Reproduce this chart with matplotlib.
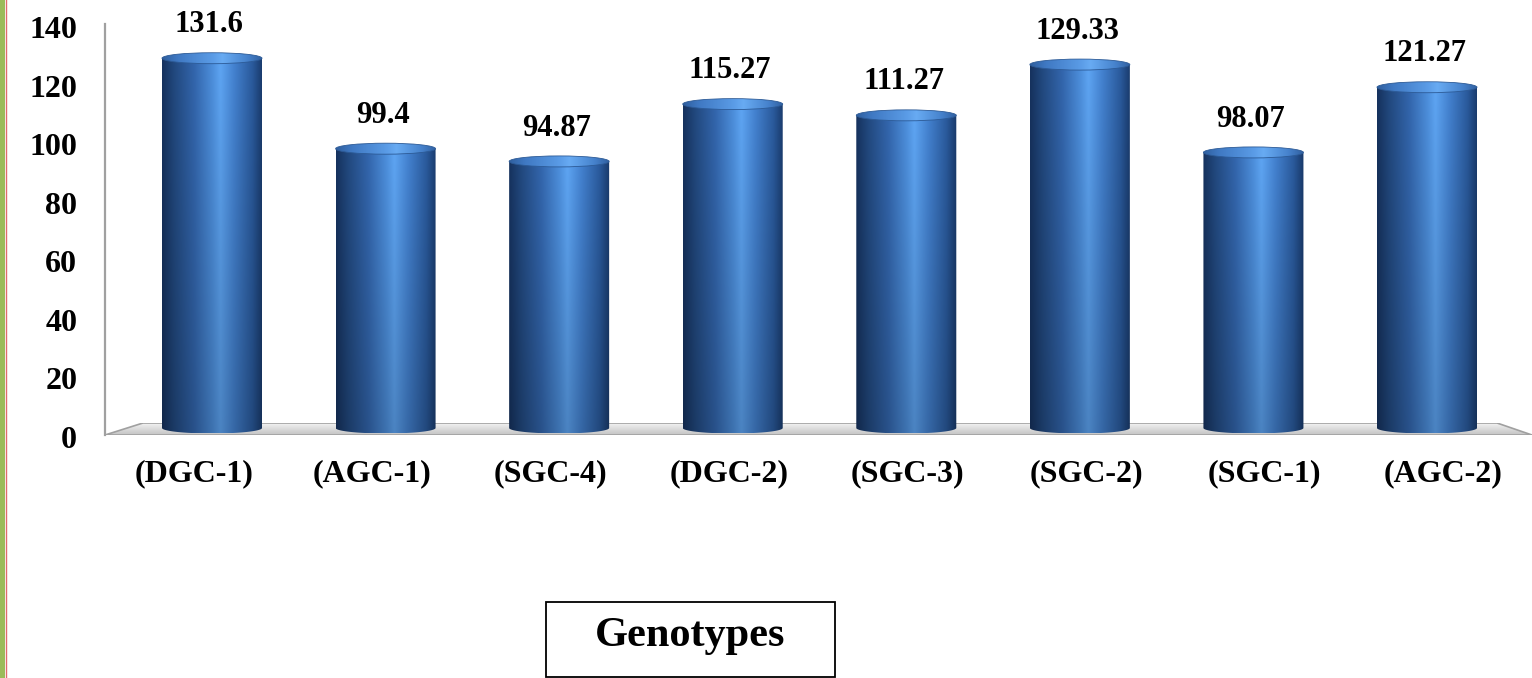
import numpy as np
import matplotlib
matplotlib.use("Agg")
import matplotlib.pyplot as plt
from matplotlib.patches import Ellipse, Rectangle, Polygon, PathPatch
from matplotlib.path import Path
from matplotlib.colors import LinearSegmentedColormap
from matplotlib.lines import Line2D
from matplotlib.transforms import blended_transform_factory

# ---- data ----
genotypes = ["(DGC-1)", "(AGC-1)", "(SGC-4)", "(DGC-2)",
             "(SGC-3)", "(SGC-2)", "(SGC-1)", "(AGC-2)"]
values = [131.6, 99.4, 94.87, 115.27, 111.27, 129.33, 98.07, 121.27]
value_labels = ["131.6", "99.4", "94.87", "115.27", "111.27", "129.33", "98.07", "121.27"]
y_ticks = [0, 20, 40, 60, 80, 100, 120, 140]
axis_title = "Genotypes"

FONT = "Liberation Serif"
W, H, DPI = 1532, 678, 100
fig = plt.figure(figsize=(W / DPI, H / DPI), dpi=DPI)
fig.patch.set_facecolor("white")


def fx(px):
    return px / W


def fy(py):
    return 1 - py / H


def axes_px(left, top, right, bottom, **kw):
    return fig.add_axes([fx(left), fy(bottom), (right - left) / W, (bottom - top) / H], **kw)


# ---- floor of the 3-D plot ----
ax_floor = axes_px(105, 423, 1532, 435)
ax_floor.set_axis_off()
ax_floor.set_xlim(0, 1)
ax_floor.set_ylim(0, 1)
floor_pts = [((143 - 105) / 1427, 1), ((1497 - 105) / 1427, 1), (1, 0), (0, 0)]
floor = Polygon(floor_pts, closed=True, facecolor="none", edgecolor="#a0a0a0", lw=1.2,
                transform=ax_floor.transAxes, zorder=3)
ax_floor.add_patch(floor)
grad = np.linspace(0, 1, 64)[:, None] * np.ones((1, 4))
floor_cmap = LinearSegmentedColormap.from_list("floor", ["#c4c4c4", "#dcdcdc", "#f7f7f7"])
fim = ax_floor.imshow(grad, extent=[0, 1, 0, 1], origin="lower", aspect="auto",
                      cmap=floor_cmap, zorder=1)
fim.set_clip_path(floor)

# wall edge (vertical axis line)
fig.add_artist(Line2D([fx(105), fx(105)], [fy(24), fy(435)], color="#a0a0a0", lw=1.6))

# ---- value scale on the back wall ----
ax_wall = axes_px(105, 27, 106, 437)
ax_wall.set_ylim(0, 140)
ax_wall.set_yticks(y_ticks)
ax_wall.set_yticklabels([str(t) for t in y_ticks], fontfamily=FONT, fontweight="bold",
                        fontsize=23)
ax_wall.set_xticks([])
ax_wall.tick_params(axis="y", length=0, pad=20)
for s in ax_wall.spines.values():
    s.set_visible(False)
ax_wall.patch.set_alpha(0)

# ---- bars (cylinders) ----
x_unit = 173.57          # px per category
y_unit = 2.81            # px per value unit
zero_px = 428
ax = axes_px(105, 20, 1532, 445)
ax.patch.set_alpha(0)
ax.set_axis_off()

bw = 100 / x_unit                 # bar width in data units
cap_h = 11 / y_unit               # ellipse height in data units
a = bw / 2
b = cap_h / 2

body_cmap = LinearSegmentedColormap.from_list(
    "body",
    [(0.0, "#16325e"), (0.12, "#22497f"), (0.32, "#3366ad"), (0.5, "#4d8fdc"),
     (0.58, "#5ea5f3"), (0.72, "#4381cf"), (0.9, "#2a5a9c"), (1.0, "#193a6b")])
cap_cmap = LinearSegmentedColormap.from_list(
    "cap",
    [(0.0, "#2f5f9f"), (0.15, "#3f78c2"), (0.5, "#5a9be6"), (0.6, "#68abf3"),
     (0.85, "#4682cc"), (1.0, "#305f9f")])

cols = body_cmap(np.linspace(0, 1, 200))[:, :3]
shade = np.linspace(0.8, 1.0, 120)[:, None, None]
body_img = np.clip(cols[None, :, :] * shade, 0, 1)
cap_img = cap_cmap(np.linspace(0, 1, 200))[None, :, :3].repeat(20, axis=0)

for i, v in enumerate(values):
    x0, x1 = i - a, i + a
    t = np.linspace(np.pi, 2 * np.pi, 60)
    verts = [(x0, v), (x0, 0)] + list(zip(i + a * np.cos(t), b * np.sin(t))) + [(x1, v), (x0, v)]
    codes = [Path.MOVETO] + [Path.LINETO] * (len(verts) - 2) + [Path.CLOSEPOLY]
    body = PathPatch(Path(verts, codes), facecolor="none", edgecolor="none",
                     transform=ax.transData)
    ax.add_patch(body)
    im = ax.imshow(body_img, extent=[x0, x1, -b, v], origin="lower", aspect="auto",
                   interpolation="bilinear", zorder=3)
    im.set_clip_path(body)

    cap = Ellipse((i, v), 2 * a, 2 * b, facecolor="none", edgecolor="#2c5a96", lw=0.6,
                  transform=ax.transData, zorder=5)
    ax.add_patch(cap)
    cim = ax.imshow(cap_img, extent=[x0, x1, v - b, v + b], origin="lower", aspect="auto",
                    interpolation="bilinear", zorder=4)
    cim.set_clip_path(cap)

    ax.annotate(value_labels[i], xy=(i, v), xytext=(-2, 24), textcoords="offset points",
                ha="center", va="center", fontfamily=FONT, fontweight="bold",
                fontsize=22, zorder=6)

ax.set_xlim(-(212 - 105) / x_unit, 7 + (1532 - 1427) / x_unit)
ax.set_ylim((zero_px - 445) / y_unit, (zero_px - 20) / y_unit)

# category labels, spread slightly wider than the bars (perspective)
tr = blended_transform_factory(ax.transData, fig.transFigure)
for i, g in enumerate(genotypes):
    lx = (194 + 178.4 * i - 212) / x_unit
    ax.text(lx, fy(474), g, transform=tr, ha="center", va="center",
            fontfamily=FONT, fontweight="bold", fontsize=23)

# ---- axis title box ----
fig.add_artist(Rectangle((fx(546), fy(677)), (835 - 546) / W, (677 - 602) / H,
                         transform=fig.transFigure, facecolor="white",
                         edgecolor="black", lw=1.3))
fig.text(fx(690), fy(646), axis_title, ha="center", va="baseline",
         fontfamily=FONT, fontweight="bold", fontsize=30.5)

# ---- page border strip on the left ----
fig.add_artist(Rectangle((0, 0), fx(5), 1, transform=fig.transFigure,
                         facecolor="#9bbb59", edgecolor="none"))
fig.add_artist(Line2D([fx(5.5), fx(5.5)], [0, 1], color="#e06c6c", lw=1.0))

fig.savefig("out.png", dpi=DPI)
